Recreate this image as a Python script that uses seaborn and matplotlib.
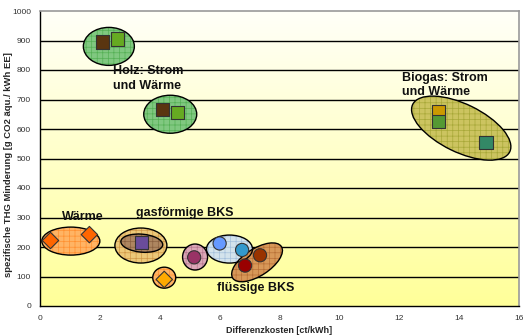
import numpy as np
import pandas as pd
import matplotlib
matplotlib.use('Agg')
import matplotlib.pyplot as plt
import seaborn as sns
from matplotlib.patches import Ellipse
from matplotlib.transforms import Affine2D

# marker data
pt_x = [2.1, 2.6, 4.1, 4.6, 13.3, 13.3, 14.9, 0.35, 1.65, 4.15, 3.4, 5.15, 6.0, 6.75, 6.85, 7.35]
pt_y = [895, 905, 665, 655, 660, 625, 555, 222, 242, 90, 214, 165, 212, 190, 137, 172]
pt_marker = ['s', 's', 's', 's', 's', 's', 's', 'D', 'D', 'D', 's', 'o', 'o', 'o', 'o', 'o']
pt_color = ['#5a3510', '#66aa22', '#5a3510', '#66aa22', '#cc9900', '#559933', '#338866',
            '#ff6600', '#ff6600', '#ffaa00', '#6a4c9a', '#993366', '#6699ff', '#3399cc',
            '#990000', '#993300']

# group ellipses: centre (data), width/height in pixels, angle, fill, hatch colour
ell_x = [2.3, 4.35, 14.07, 1.03, 3.37, 3.4, 4.15, 5.18, 6.33, 7.25]
ell_y = [880, 650, 603, 220, 205, 213, 96, 166, 193, 148]
ell_w = [51, 53, 108, 58, 52, 42, 23, 25, 46, 58]
ell_h = [38, 38, 48, 28, 35, 18, 21, 26, 28, 27]
ell_ang = [0, 0, -26, 0, 0, -5, 0, 0, 0, 33]
ell_fill = ['#80c880', '#80c880', '#ccc460', '#ffb464', '#ecc878', '#ae8660',
            '#ffb464', '#dca8b8', '#d3e3ec', '#d89858']
ell_hatch = ['#55b055', '#55b055', '#a8a838', '#ff9030', '#d09848', '#8a6040',
             '#ff9030', '#b87890', '#a4c0dc', '#b87038']

labels = ['Holz: Strom\nund Wärme', 'Biogas: Strom\nund Wärme', 'Wärme',
          'gasförmige BKS', 'flüssige BKS']
lab_x = [2.43, 12.1, 0.75, 3.2, 5.9]
lab_y = [770, 749, 300, 315, 61]

x_ticks = list(range(0, 17, 2))
y_ticks = list(range(0, 1001, 100))

df = pd.DataFrame({'x': pt_x, 'y': pt_y, 'm': pt_marker, 'c': pt_color})

sns.set_style('white')
plt.rcParams['font.family'] = ['Liberation Sans', 'DejaVu Sans']
plt.rcParams['hatch.linewidth'] = 0.5

fig = plt.figure(figsize=(5.24, 3.36), dpi=100)
ax = fig.add_axes([40 / 524, 30 / 336, 479 / 524, 295 / 336])
ax.set_xlim(0, 16)
ax.set_ylim(0, 1000)

# background gradient
grad = np.linspace(0, 1, 256).reshape(-1, 1)
cmap = matplotlib.colors.LinearSegmentedColormap.from_list('bg', ['#ffff99', '#fffff8'])
ax.imshow(grad, extent=[0, 16, 0, 1000], origin='lower', aspect='auto', cmap=cmap, zorder=0)

for yy in y_ticks[1:-1]:
    ax.axhline(yy, color='black', lw=1, zorder=1)

# ellipses in pixel units
sx = 16 / 479
sy = 1000 / 295
for i in range(len(ell_x)):
    tr = Affine2D().scale(sx, sy).translate(ell_x[i], ell_y[i]) + ax.transData
    e1 = Ellipse((0, 0), ell_w[i], ell_h[i], angle=ell_ang[i], facecolor=ell_fill[i],
                 edgecolor=ell_hatch[i], hatch='+++', lw=0, transform=tr, zorder=2)
    e2 = Ellipse((0, 0), ell_w[i], ell_h[i], angle=ell_ang[i], facecolor='none',
                 edgecolor='black', lw=1, transform=tr, zorder=3)
    ax.add_patch(e1)
    ax.add_patch(e2)

for m in ['s', 'D', 'o']:
    sub = df[df['m'] == m]
    sns.scatterplot(data=sub, x='x', y='y', marker=m, c=sub['c'].tolist(), s=90 if m != 'D' else 70,
                    edgecolor='#333333', linewidth=0.8, ax=ax, zorder=4, legend=False)

for t, lx, ly in zip(labels, lab_x, lab_y):
    ax.text(lx, ly, t, fontsize=9, fontweight='bold', color='#111111', ha='left', va='center',
            linespacing=1.3, zorder=5)

ax.set_xticks(x_ticks)
ax.set_yticks(y_ticks)
ax.tick_params(axis='both', labelsize=6, colors='#333333', length=3, direction='out', width=0.8)
ax.tick_params(axis='both', color='black')
for s in ['left', 'bottom']:
    ax.spines[s].set_color('black')
    ax.spines[s].set_linewidth(1)
for s in ['top', 'right']:
    ax.spines[s].set_color('#999999')
    ax.spines[s].set_linewidth(1.2)

ax.set_xlabel('Differenzkosten [ct/kWh]', fontsize=6.5, fontweight='bold', labelpad=3)
ax.set_ylabel('spezifische THG Minderung [g CO2 äqu./ kWh EE]', fontsize=6.8,
              fontweight='bold')
ax.yaxis.set_label_coords(-0.057, 0.48)

fig.savefig('out.png', dpi=100)
